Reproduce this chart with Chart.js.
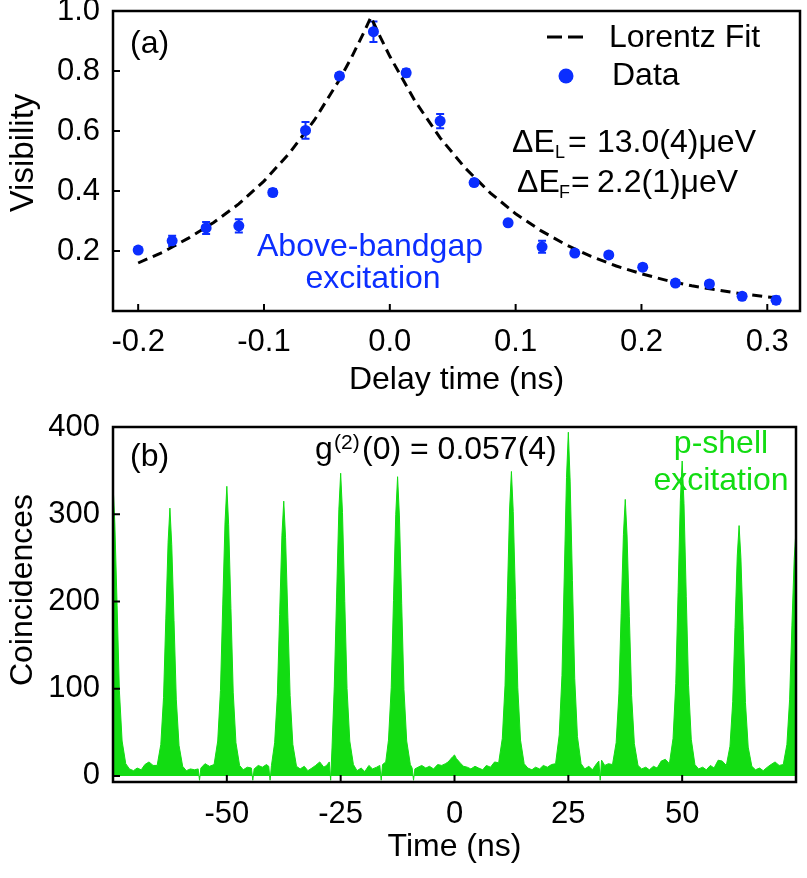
<!DOCTYPE html>
<html>
<head>
<meta charset="utf-8">
<title>Visibility and coincidences</title>
<script src="https://cdn.jsdelivr.net/npm/chart.js@4.4.1/dist/chart.umd.min.js"></script>
<style>
  html, body { margin: 0; padding: 0; background: #fff; }
  #wrap { position: relative; width: 807px; height: 878px; }
  canvas { position: absolute; left: 0; }
  #visChart { top: 0; }
  #g2Chart { top: 400px; }
</style>
</head>
<body>
<div id="wrap">
  <canvas id="visChart" width="807" height="400"></canvas>
  <canvas id="g2Chart" width="807" height="478"></canvas>
</div>
<script>
// (a) two-photon interference visibility vs delay
const delayNs = [-0.200, -0.173, -0.146, -0.120, -0.093, -0.067, -0.040, -0.013, 0.013, 0.040,
                 0.067, 0.094, 0.121, 0.147, 0.174, 0.201, 0.227, 0.254, 0.280, 0.307];
const visibility = [0.203, 0.234, 0.277, 0.284, 0.395, 0.602, 0.783, 0.931, 0.794, 0.633,
                    0.428, 0.294, 0.214, 0.193, 0.187, 0.146, 0.093, 0.090, 0.049, 0.036];
const visError = [0.010, 0.017, 0.020, 0.022, 0.012, 0.028, 0.010, 0.034, 0.012, 0.024,
                  0.010, 0.010, 0.020, 0.010, 0.010, 0.010, 0.010, 0.010, 0.010, 0.012];

// Lorentz fit curve
const fitDelayNs = [-0.20, -0.18, -0.16, -0.14, -0.12, -0.10, -0.08, -0.06, -0.04, -0.03,
                    -0.02, -0.015, -0.01, 0.00, 0.02, 0.04, 0.06, 0.08, 0.10, 0.12,
                    0.14, 0.16, 0.18, 0.20, 0.22, 0.24, 0.26, 0.28, 0.30, 0.31];
const fitVisibility = [0.160, 0.197, 0.243, 0.295, 0.357, 0.433, 0.525, 0.636, 0.771, 0.849,
                       0.934, 0.980, 0.934, 0.849, 0.700, 0.577, 0.476, 0.393, 0.324, 0.268,
                       0.221, 0.182, 0.150, 0.124, 0.102, 0.084, 0.070, 0.057, 0.047, 0.043];

const delayTicks = [-0.2, -0.1, 0.0, 0.1, 0.2, 0.3];
const visTicks = [0.2, 0.4, 0.6, 0.8, 1.0];

// (b) coincidence histogram, one line per 12.5 ns period
const timeNs = [
  -75.0, -74.6, -74.1, -73.6, -73.0, -72.2, -71.4, -70.5, -69.7, -68.8, -68.0, -67.1, -66.2,
  -65.3, -64.5, -63.9, -63.4, -62.9, -62.5, -62.1, -61.6, -61.1, -60.5, -59.7, -58.9, -58.0, -57.1, -56.3, -56.0, -55.7, -54.8, -53.8,
  -52.8, -52.0, -51.4, -50.9, -50.4, -50.0, -49.6, -49.1, -48.6, -48.0, -47.2, -46.4, -45.5, -44.6, -44.3, -44.0, -43.1, -42.2, -41.3,
  -40.8, -40.5, -40.2, -39.5, -38.9, -38.4, -37.9, -37.5, -37.1, -36.6, -36.1, -35.5, -34.7, -33.9, -33.0, -32.2, -31.3, -30.5, -29.6, -28.7,
  -28.1, -27.5, -27.2, -26.9, -26.4, -25.9, -25.4, -25.0, -24.6, -24.1, -23.6, -23.0, -22.2, -21.4, -20.5, -19.7, -18.8, -18.0, -17.1, -16.4, -16.1, -15.8,
  -15.1, -14.5, -13.9, -13.4, -12.9, -12.5, -12.1, -11.6, -11.1, -10.5, -9.7, -9.3, -9.0, -8.7, -8.0, -7.2, -6.3, -5.5, -4.6, -3.7,
  -2.8, -2.0, -1.4, -0.9, -0.4, 0.0, 0.4, 0.9, 1.4, 2.0, 2.8, 3.6, 4.5, 5.3, 6.2, 7.0, 7.9, 8.8,
  9.7, 10.5, 11.1, 11.6, 12.1, 12.5, 12.9, 13.4, 13.9, 14.5, 15.3, 16.1, 17.0, 17.8, 18.7, 19.5, 20.4, 21.3,
  22.2, 23.0, 23.6, 24.1, 24.6, 25.0, 25.4, 25.9, 26.4, 27.0, 27.8, 28.6, 29.5, 30.3, 31.2, 31.7, 32.0, 32.3, 33.0, 33.8,
  34.7, 35.5, 36.1, 36.6, 37.1, 37.5, 37.9, 38.4, 38.9, 39.5, 40.3, 41.1, 42.0, 42.8, 43.7, 44.5, 45.4, 46.3,
  47.2, 48.0, 48.6, 49.1, 49.6, 50.0, 50.4, 50.9, 51.4, 52.0, 52.8, 53.6, 54.5, 55.3, 56.2, 57.0, 57.9, 58.8,
  59.7, 60.5, 61.1, 61.6, 62.1, 62.5, 62.9, 63.4, 63.9, 64.5, 65.3, 66.1, 67.0, 67.8, 68.7, 69.5, 70.4, 71.3,
  72.2, 73.0, 73.6, 74.1, 74.6, 75.0
];
const counts = [
  335, 290, 195, 98, 40, 14, 8, 6, 9, 7, 13, 16, 12,
  12, 36, 90, 180, 268, 307, 265, 178, 88, 35, 11, 6, 8, 7, 8, -5, 9, 14, 11,
  13, 40, 98, 196, 290, 332, 288, 192, 96, 38, 12, 7, 10, 9, -5, 8, 12, 10, 13,
  11, -5, 12, 38, 93, 185, 276, 315, 273, 182, 92, 36, 11, 8, 11, 6, 9, 12, 16, 10,
  12, 16, -5, 32, 103, 204, 305, 347, 302, 200, 100, 40, 13, 6, 9, 5, 12, 8, 10, 12, -5, 13,
  16, 41, 101, 201, 300, 343, 298, 198, 99, 40, 13, 9, -5, 8, 10, 12, 9, 11, 8, 13,
  12, 14, 16, 19, 22, 24, 20, 17, 14, 11, 10, 8, 11, 9, 7, 12, 10, 16,
  15, 43, 104, 205, 306, 349, 303, 202, 101, 41, 14, 9, 7, 10, 8, 12, 10, 13,
  14, 47, 115, 228, 342, 394, 338, 224, 112, 45, 14, 8, 11, 7, 14, 17, -5, 18, 12, 14,
  13, 38, 94, 186, 277, 317, 275, 183, 92, 37, 12, 8, 10, 7, 11, 9, 17, 19,
  14, 43, 106, 210, 316, 361, 312, 206, 104, 42, 13, 8, 10, 7, 12, 9, 18, 17,
  12, 34, 85, 170, 252, 287, 250, 168, 84, 33, 11, 7, 9, 6, 10, 13, 16, 12,
  13, 36, 88, 172, 248, 282
];

const timeTicks = [-50, -25, 0, 25, 50];
const countTicks = [0, 100, 200, 300, 400];

const BLUE = '#0b2eff';
const GREEN = '#12dc12';
const FONT = '"Liberation Sans", Arial, Helvetica, sans-serif';

Chart.defaults.font.family = FONT;
Chart.defaults.color = '#000';

function txt(ctx, s, x, y, size, color, align) {
  ctx.font = size + 'px ' + FONT;
  ctx.fillStyle = color || '#000';
  ctx.textAlign = align || 'left';
  ctx.textBaseline = 'middle';
  ctx.fillText(s, x, y);
}

// rotated y-axis title, baseline at x, centred on y
function yTitle(ctx, s, x, y, size) {
  ctx.save();
  ctx.translate(x, y);
  ctx.rotate(-Math.PI / 2);
  ctx.font = size + 'px ' + FONT;
  ctx.fillStyle = '#000';
  ctx.textAlign = 'center';
  ctx.textBaseline = 'alphabetic';
  ctx.fillText(s, 0, 0);
  ctx.restore();
}

// closed frame with short inward tick marks
const frameTicks = {
  id: 'frameTicks',
  afterDraw(chart) {
    const { ctx, chartArea: a, scales } = chart;
    ctx.save();
    ctx.strokeStyle = '#000';
    ctx.lineWidth = 2;
    ctx.beginPath();
    scales.x.ticks.forEach(t => {
      const px = scales.x.getPixelForValue(t.value);
      ctx.moveTo(px, a.bottom);
      ctx.lineTo(px, a.bottom - 7);
    });
    scales.y.ticks.forEach(t => {
      const py = scales.y.getPixelForValue(t.value);
      ctx.moveTo(a.left, py);
      ctx.lineTo(a.left + 7, py);
    });
    ctx.stroke();
    ctx.lineWidth = 2.5;
    ctx.strokeRect(a.left, a.top, a.right - a.left, a.bottom - a.top);
    ctx.restore();
  }
};

function fixedY(width) {
  return s => { s.width = width; s.paddingTop = 0; s.paddingBottom = 0; };
}
function fixedX(height) {
  return s => { s.height = height; s.paddingLeft = 0; s.paddingRight = 0; };
}
function tickList(values) {
  return s => { s.ticks = values.map(v => ({ value: v })); };
}

// ---------- panel (a) ----------
const errorBars = {
  id: 'errorBars',
  beforeDatasetsDraw(chart) {
    const { ctx, scales: { x, y } } = chart;
    ctx.save();
    ctx.strokeStyle = BLUE;
    ctx.lineWidth = 2;
    ctx.beginPath();
    delayNs.forEach((d, i) => {
      const px = x.getPixelForValue(d);
      const lo = y.getPixelForValue(visibility[i] - visError[i]);
      const hi = y.getPixelForValue(visibility[i] + visError[i]);
      ctx.moveTo(px, lo); ctx.lineTo(px, hi);
      ctx.moveTo(px - 4, lo); ctx.lineTo(px + 4, lo);
      ctx.moveTo(px - 4, hi); ctx.lineTo(px + 4, hi);
    });
    ctx.stroke();
    ctx.restore();
  }
};

const panelA = {
  id: 'panelA',
  afterDraw(chart) {
    const ctx = chart.ctx;
    ctx.save();
    yTitle(ctx, 'Visibility', 33, 153, 33);
    txt(ctx, '(a)', 130, 44, 32);
    // legend
    ctx.strokeStyle = '#000';
    ctx.lineWidth = 3;
    ctx.setLineDash([15, 6]);
    ctx.beginPath();
    ctx.moveTo(547, 37); ctx.lineTo(583, 37);
    ctx.stroke();
    ctx.setLineDash([]);
    txt(ctx, 'Lorentz Fit', 609, 38, 32);
    ctx.fillStyle = BLUE;
    ctx.beginPath();
    ctx.arc(566, 76, 7.5, 0, Math.PI * 2);
    ctx.fill();
    txt(ctx, 'Data', 612, 76, 32);
    // linewidths
    txt(ctx, 'ΔE', 512, 143, 32);
    txt(ctx, 'L', 555, 153, 18);
    txt(ctx, '=', 568, 143, 32);
    txt(ctx, '13.0(4)μeV', 597, 143, 32);
    txt(ctx, 'ΔE', 517, 183, 32);
    txt(ctx, 'F', 559, 193, 18);
    txt(ctx, '=', 571, 183, 32);
    txt(ctx, '2.2(1)μeV', 597, 183, 32);
    // excitation label
    txt(ctx, 'Above-bandgap', 370, 247, 32, BLUE, 'center');
    txt(ctx, 'excitation', 373, 279, 32, BLUE, 'center');
    ctx.restore();
  }
};

new Chart(document.getElementById('visChart'), {
  type: 'scatter',
  data: {
    datasets: [
      {
        label: 'Data',
        data: delayNs.map((d, i) => ({ x: d, y: visibility[i] })),
        pointRadius: 5.5,
        pointBackgroundColor: BLUE,
        pointBorderWidth: 0,
        showLine: false
      },
      {
        type: 'line',
        label: 'Lorentz Fit',
        data: fitDelayNs.map((d, i) => ({ x: d, y: fitVisibility[i] })),
        borderColor: '#000',
        borderWidth: 3,
        borderDash: [10, 6],
        pointRadius: 0,
        fill: false,
        tension: 0
      }
    ]
  },
  options: {
    responsive: false,
    animation: false,
    layout: { padding: { left: 0, top: 11, right: 7, bottom: 0 } },
    plugins: { legend: { display: false }, tooltip: { enabled: false } },
    scales: {
      x: {
        type: 'linear',
        min: -0.22,
        max: 0.326,
        afterFit: fixedX(89),
        afterBuildTicks: tickList(delayTicks),
        grid: { display: false, drawTicks: false },
        border: { display: false },
        ticks: { padding: 13, font: { size: 31 }, callback: v => v.toFixed(1) },
        title: { display: true, text: 'Delay time (ns)', font: { size: 32 }, padding: { top: 0, bottom: 1 } }
      },
      y: {
        min: 0,
        max: 1.0,
        afterFit: fixedY(113),
        afterBuildTicks: tickList(visTicks),
        grid: { display: false, drawTicks: false },
        border: { display: false },
        ticks: { padding: 13, font: { size: 31 }, callback: v => v.toFixed(1) }
      }
    }
  },
  plugins: [errorBars, frameTicks, panelA]
});

// ---------- panel (b) ----------
const panelB = {
  id: 'panelB',
  afterDraw(chart) {
    const ctx = chart.ctx;
    ctx.save();
    yTitle(ctx, 'Coincidences', 32, 190, 32);
    txt(ctx, '(b)', 130, 57, 32);
    txt(ctx, 'g', 315, 50, 32);
    txt(ctx, '(2)', 334, 43, 21);
    txt(ctx, '(0) = 0.057(4)', 362, 50, 32);
    txt(ctx, 'p-shell', 721, 44, 32, GREEN, 'center');
    txt(ctx, 'excitation', 721, 81, 32, GREEN, 'center');
    ctx.restore();
  }
};

new Chart(document.getElementById('g2Chart'), {
  type: 'line',
  data: {
    datasets: [{
      label: 'Coincidences',
      data: timeNs.map((t, i) => ({ x: t, y: counts[i] })),
      borderColor: GREEN,
      backgroundColor: GREEN,
      borderWidth: 1,
      pointRadius: 0,
      fill: 'origin',
      tension: 0
    }]
  },
  options: {
    responsive: false,
    animation: false,
    layout: { padding: { left: 0, top: 27, right: 11, bottom: 0 } },
    plugins: { legend: { display: false }, tooltip: { enabled: false } },
    scales: {
      x: {
        type: 'linear',
        min: -75,
        max: 75,
        afterFit: fixedX(96),
        afterBuildTicks: tickList(timeTicks),
        grid: { display: false, drawTicks: false },
        border: { display: false },
        ticks: { padding: 14, font: { size: 31 } },
        title: { display: true, text: 'Time (ns)', font: { size: 32 }, padding: { top: 0, bottom: 12 } }
      },
      y: {
        min: -7,
        max: 400,
        afterFit: fixedY(113),
        afterBuildTicks: tickList(countTicks),
        grid: { display: false, drawTicks: false },
        border: { display: false },
        ticks: { padding: 13, font: { size: 31 } }
      }
    }
  },
  plugins: [frameTicks, panelB]
});
</script>
</body>
</html>
